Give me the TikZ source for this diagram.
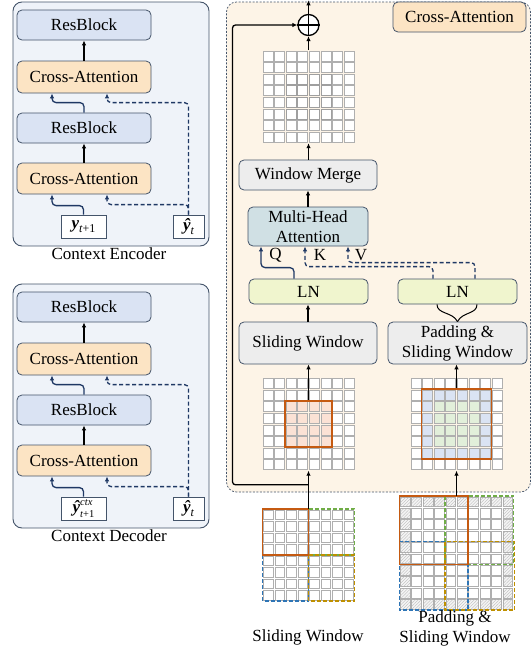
\documentclass[tikz,border=0pt]{standalone}
\usepackage{fontspec}
\setmainfont{Liberation Serif}
\usetikzlibrary{arrows.meta,patterns.meta}

\definecolor{edge}{RGB}{68,84,106}
\definecolor{lpanel}{RGB}{239,243,249}
\definecolor{resfill}{RGB}{218,227,243}
\definecolor{crossfill}{RGB}{252,228,196}
\definecolor{rpanelfill}{RGB}{253,244,231}
\definecolor{grayfill}{RGB}{237,237,237}
\definecolor{mhafill}{RGB}{208,224,228}
\definecolor{lnfill}{RGB}{240,245,206}
\definecolor{navyc}{RGB}{31,56,100}
\definecolor{winorange}{RGB}{197,90,17}
\definecolor{peach}{RGB}{251,226,213}
\definecolor{wingreen}{RGB}{112,173,71}
\definecolor{winblue}{RGB}{46,117,182}
\definecolor{wingold}{RGB}{191,144,0}
\definecolor{cellblue}{RGB}{218,227,243}
\definecolor{cellgreen}{RGB}{226,239,218}
\definecolor{cellline}{RGB}{175,175,175}

% latent symbols: bold italic y, its hat version, lowered / raised indices
\newcommand{\yvec}{{\bfseries\itshape y}}
\newcommand{\yhatvec}{{\bfseries\itshape ŷ}}
\newcommand{\lowidx}[2]{\raisebox{-#1}{\fontsize{12}{12}\selectfont #2}}
\newcommand{\stackidx}[2]{\rlap{\raisebox{7.8pt}{\fontsize{10.5}{10.5}\selectfont #1}}%
  \raisebox{-5pt}{\fontsize{10.5}{10.5}\selectfont #2}}

% block of small square cells: origin x, origin y, cell size, columns, rows, style
\newcommand{\cellrun}[6]{%
  \foreach \cellcol in {#4} {
    \foreach \cellrow in {#5} {
      \draw[#6] ({#1+\cellcol*#3+0.8},{#2+\cellrow*#3+0.8}) rectangle ++({#3-1.6},{#3-1.6});
    }
  }%
}

\begin{document}
\begin{tikzpicture}[x=1pt,y=-1pt,
  font=\fontsize{17}{20}\selectfont,
  box/.style={draw=edge, line width=0.8pt, rounded corners=5pt, inner sep=0pt, align=center},
  resbox/.style={box, fill=resfill, minimum width=134pt, minimum height=30pt},
  crossbox/.style={box, fill=crossfill, minimum width=134pt, minimum height=31pt},
  inbox/.style={draw=edge, line width=0.8pt, fill=white, inner sep=0pt, minimum height=23pt},
  graybox/.style={box, fill=grayfill},
  lnbox/.style={box, fill=lnfill, minimum width=119pt, minimum height=25pt},
  lpanelbox/.style={draw=edge, line width=0.9pt, fill=lpanel, rounded corners=9pt, inner sep=0pt},
  frame/.style={inner sep=0pt, draw=none},
  cell/.style={draw=cellline, line width=0.6pt, fill=white},
  hatch/.style={draw=cellline, line width=0.6pt, fill=gray!9,
    postaction={pattern={Lines[angle=45,distance=2.2pt,line width=0.35pt]}, pattern color=gray!55}},
  blk/.style={-{Latex[length=5pt,width=4.5pt]}, line width=1.3pt, black},
  qarr/.style={-{Latex[length=5pt,width=4.5pt]}, line width=1.3pt, navyc, rounded corners=4pt},
  darr/.style={qarr, dash pattern=on 4pt off 2.5pt},
  solidwin/.style={draw=winorange, line width=1.8pt},
  dashwin/.style={line width=1.6pt, dash pattern=on 4pt off 2pt},
]
\useasboundingbox (0,0) rectangle (532,651);

% ---------------- Context Encoder ----------------
\node[lpanelbox, minimum width=196pt, minimum height=244pt] (epanel) at (111,124) {};
\node[resbox] (erb1) at (84,25) {ResBlock};
\node[crossbox, minimum height=32pt] (eca1) at (84,77) {Cross-Attention};
\node[resbox] (erb2) at (84,128) {ResBlock};
\node[crossbox] (eca2) at (84,178.5) {Cross-Attention};
\node[inbox, minimum width=45pt] (ein1) at (83.5,226.5) {\yvec\lowidx{4pt}{\itshape t\upshape +1}};
\node[inbox, minimum width=31pt] (ein2) at (188.5,226.5) {\yhatvec\lowidx{4pt}{\itshape t}};
\node (elbl) at (109,254) {Context Encoder};

\draw[blk] (eca1.north) -- (erb1.south);
\draw[blk] (eca2.north) -- (erb2.south);
\draw[qarr] (erb2.north) -- ++(0,-10) -| ([xshift=-32pt]eca1.south);
\draw[qarr] (ein1.north) -- ++(0,-9) -| ([xshift=-32pt]eca2.south);
\draw[darr] (ein2.north) -- ++(0,-112) -| ([xshift=23pt]eca1.south);
\draw[darr] (ein2.north) -- ++(0,-10) -| ([xshift=23pt]eca2.south);

% ---------------- Context Decoder ----------------
\begin{scope}[shift={(0,282)}]
\node[lpanelbox, minimum width=196pt, minimum height=244pt] (dpanel) at (111,124) {};
\node[resbox] (drb1) at (84,25) {ResBlock};
\node[crossbox, minimum height=32pt] (dca1) at (84,77) {Cross-Attention};
\node[resbox] (drb2) at (84,128) {ResBlock};
\node[crossbox] (dca2) at (84,178.5) {Cross-Attention};
\node[inbox, minimum width=45pt] (din1) at (83.5,226.5) {\yhatvec\stackidx{\itshape ctx}{\itshape t\upshape +1}};
\node[inbox, minimum width=31pt] (din2) at (188.5,226.5) {\yhatvec\lowidx{4pt}{\itshape t}};
\node (dlbl) at (109,254) {Context Decoder};

\draw[blk] (dca1.north) -- (drb1.south);
\draw[blk] (dca2.north) -- (drb2.south);
\draw[qarr] (drb2.north) -- ++(0,-10) -| ([xshift=-32pt]dca1.south);
\draw[qarr] (din1.north) -- ++(0,-9) -| ([xshift=-32pt]dca2.south);
\draw[darr] (din2.north) -- ++(0,-112) -| ([xshift=23pt]dca1.south);
\draw[darr] (din2.north) -- ++(0,-10) -| ([xshift=23pt]dca2.south);
\end{scope}

% ---------------- Cross-Attention detail ----------------
\node[draw=edge, line width=0.7pt, dash pattern=on 2pt off 1.5pt, fill=rpanelfill,
      rounded corners=10pt, minimum width=304pt, minimum height=490pt, inner sep=0pt] (rpanel) at (378.5,247) {};
\node[crossbox, minimum width=133pt, minimum height=30pt] (calbl) at (459.5,17) {Cross-Attention};

% output feature map
\cellrun{262}{50}{11.625}{0,...,7}{0,...,7}{cell}
\cellrun{262}{50}{11.625}{2,...,5}{2,...,5}{cell, draw=gray!75}
\node[frame, minimum size=93pt] (gtop) at (308.5,96.5) {};

% input feature map, plain sliding window
\cellrun{262}{377.5}{11.625}{0,...,7}{0,...,7}{cell}
\cellrun{262}{377.5}{11.625}{2,...,5}{2,...,5}{cell, fill=peach}
\node[frame, minimum size=93pt] (gmidl) at (308.5,424) {};
\node[frame, draw=winorange, line width=1.6pt, minimum size=46.5pt] (owin) at (308.5,424) {};

% input feature map, padded sliding window
\cellrun{410}{377.5}{11.625}{0,...,7}{0,...,7}{cell}
\cellrun{410}{377.5}{11.625}{1,...,6}{1,...,6}{cell, fill=cellblue}
\cellrun{410}{377.5}{11.625}{2,...,5}{2,...,5}{cell, fill=cellgreen}
\node[frame, minimum size=93pt] (gmidr) at (456.5,424) {};
\node[frame, draw=winorange, line width=1.6pt, minimum size=69.75pt] (bwin) at (456.5,424) {};

\node[circle, draw=black, fill=white, line width=1.3pt, minimum size=21pt, inner sep=0pt] (plus) at (308.5,25) {};
\draw[line width=1.3pt] (plus.north) -- (plus.south) (plus.west) -- (plus.east);
\coordinate (topout) at (308.5,0.3);

\node[graybox, minimum width=138pt, minimum height=30pt] (wm) at (308,175) {Window Merge};
\node[box, fill=mhafill, minimum width=120pt, minimum height=39pt] (mha) at (308,226.5) {Multi-Head\\Attention};
\node[lnbox] (ln1) at (308.5,291.5) {LN};
\node[lnbox] (ln2) at (457.5,291.5) {LN};
\node[graybox, minimum width=138pt, minimum height=42pt] (sw) at (308,343) {Sliding Window};
\node[graybox, minimum width=139pt, minimum height=42pt] (psw) at (457.5,343) {Padding \&\\Sliding Window};

\node (lq) at (275.5,255) {Q};
\node (lk) at (320,255) {K};
\node (lv) at (361,255) {V};

\draw[blk] (plus.north) -- (topout);
\draw[blk] (gtop.north) -- (plus.south);
\draw[blk] (wm.north -| gtop.south) -- (gtop.south);
\draw[blk] (mha.north) -- (wm.south);
\draw[qarr] ([xshift=-14.5pt]ln1.north) -- ++(0,-11) -| ([xshift=-47pt]mha.south);
\draw[darr] ([xshift=-24.5pt]ln2.north) -- ++(0,-12) -| ([xshift=-3pt]mha.south);
\draw[darr] ([xshift=17.5pt]ln2.north) -- ++(0,-16) -| ([xshift=40pt]mha.south);
\draw[blk] (sw.north) -- (sw.north |- ln1.south);
\draw[line width=1pt] ([xshift=-20.5pt]ln2.south) .. controls +(0,10) and +(-5,-10) .. (psw.north);
\draw[line width=1pt] ([xshift=19.5pt]ln2.south) .. controls +(0,10) and +(5,-10) .. (psw.north);
\draw[blk] (owin.north) -- (owin.north |- sw.south);
\draw[blk] (bwin.north) -- (bwin.north |- psw.south);

% ---------------- window partition examples ----------------
\cellrun{262.5}{509}{11.5}{0,...,7}{0,...,7}{cell}
\node[frame, minimum size=92pt] (gbl) at (308.5,555) {};
\draw[dashwin, draw=wingreen] (308.5,509) rectangle (354.5,555);
\draw[dashwin, draw=winblue] (262.5,555) rectangle (308.5,601);
\draw[dashwin, draw=wingold] (308.5,555) rectangle (354.5,601);
\draw[solidwin] (262.5,509) rectangle (308.5,555);

\cellrun{399.5}{496}{11.4}{0,...,9}{0,...,9}{cell}
\cellrun{399.5}{496}{11.4}{0,...,9}{0,9}{hatch}
\cellrun{399.5}{496}{11.4}{0,9}{1,...,8}{hatch}
\node[frame, minimum size=114pt] (gbr) at (456.5,553) {};
\draw[dashwin, draw=wingreen] (445.1,496) rectangle (513.5,564.4);
\draw[dashwin, draw=winblue] (399.5,541.6) rectangle (467.9,610);
\draw[dashwin, draw=wingold] (445.1,541.6) rectangle (514.5,610);
\draw[solidwin] (399.5,496) rectangle (467.9,564.4);

\draw[blk] (gbl.north) -- (gmidl.south);
\draw[blk, rounded corners=3pt] ([yshift=24pt]gbl.north) -- ++(-76,0) |- (plus.west);
\draw[blk] (gbr.north) -- (gmidr.south);

\node (swlbl) at (308,637) {Sliding Window};
\node[align=center] (pswlbl) at (455,628) {Padding \&\\Sliding Window};
\end{tikzpicture}
\end{document}
